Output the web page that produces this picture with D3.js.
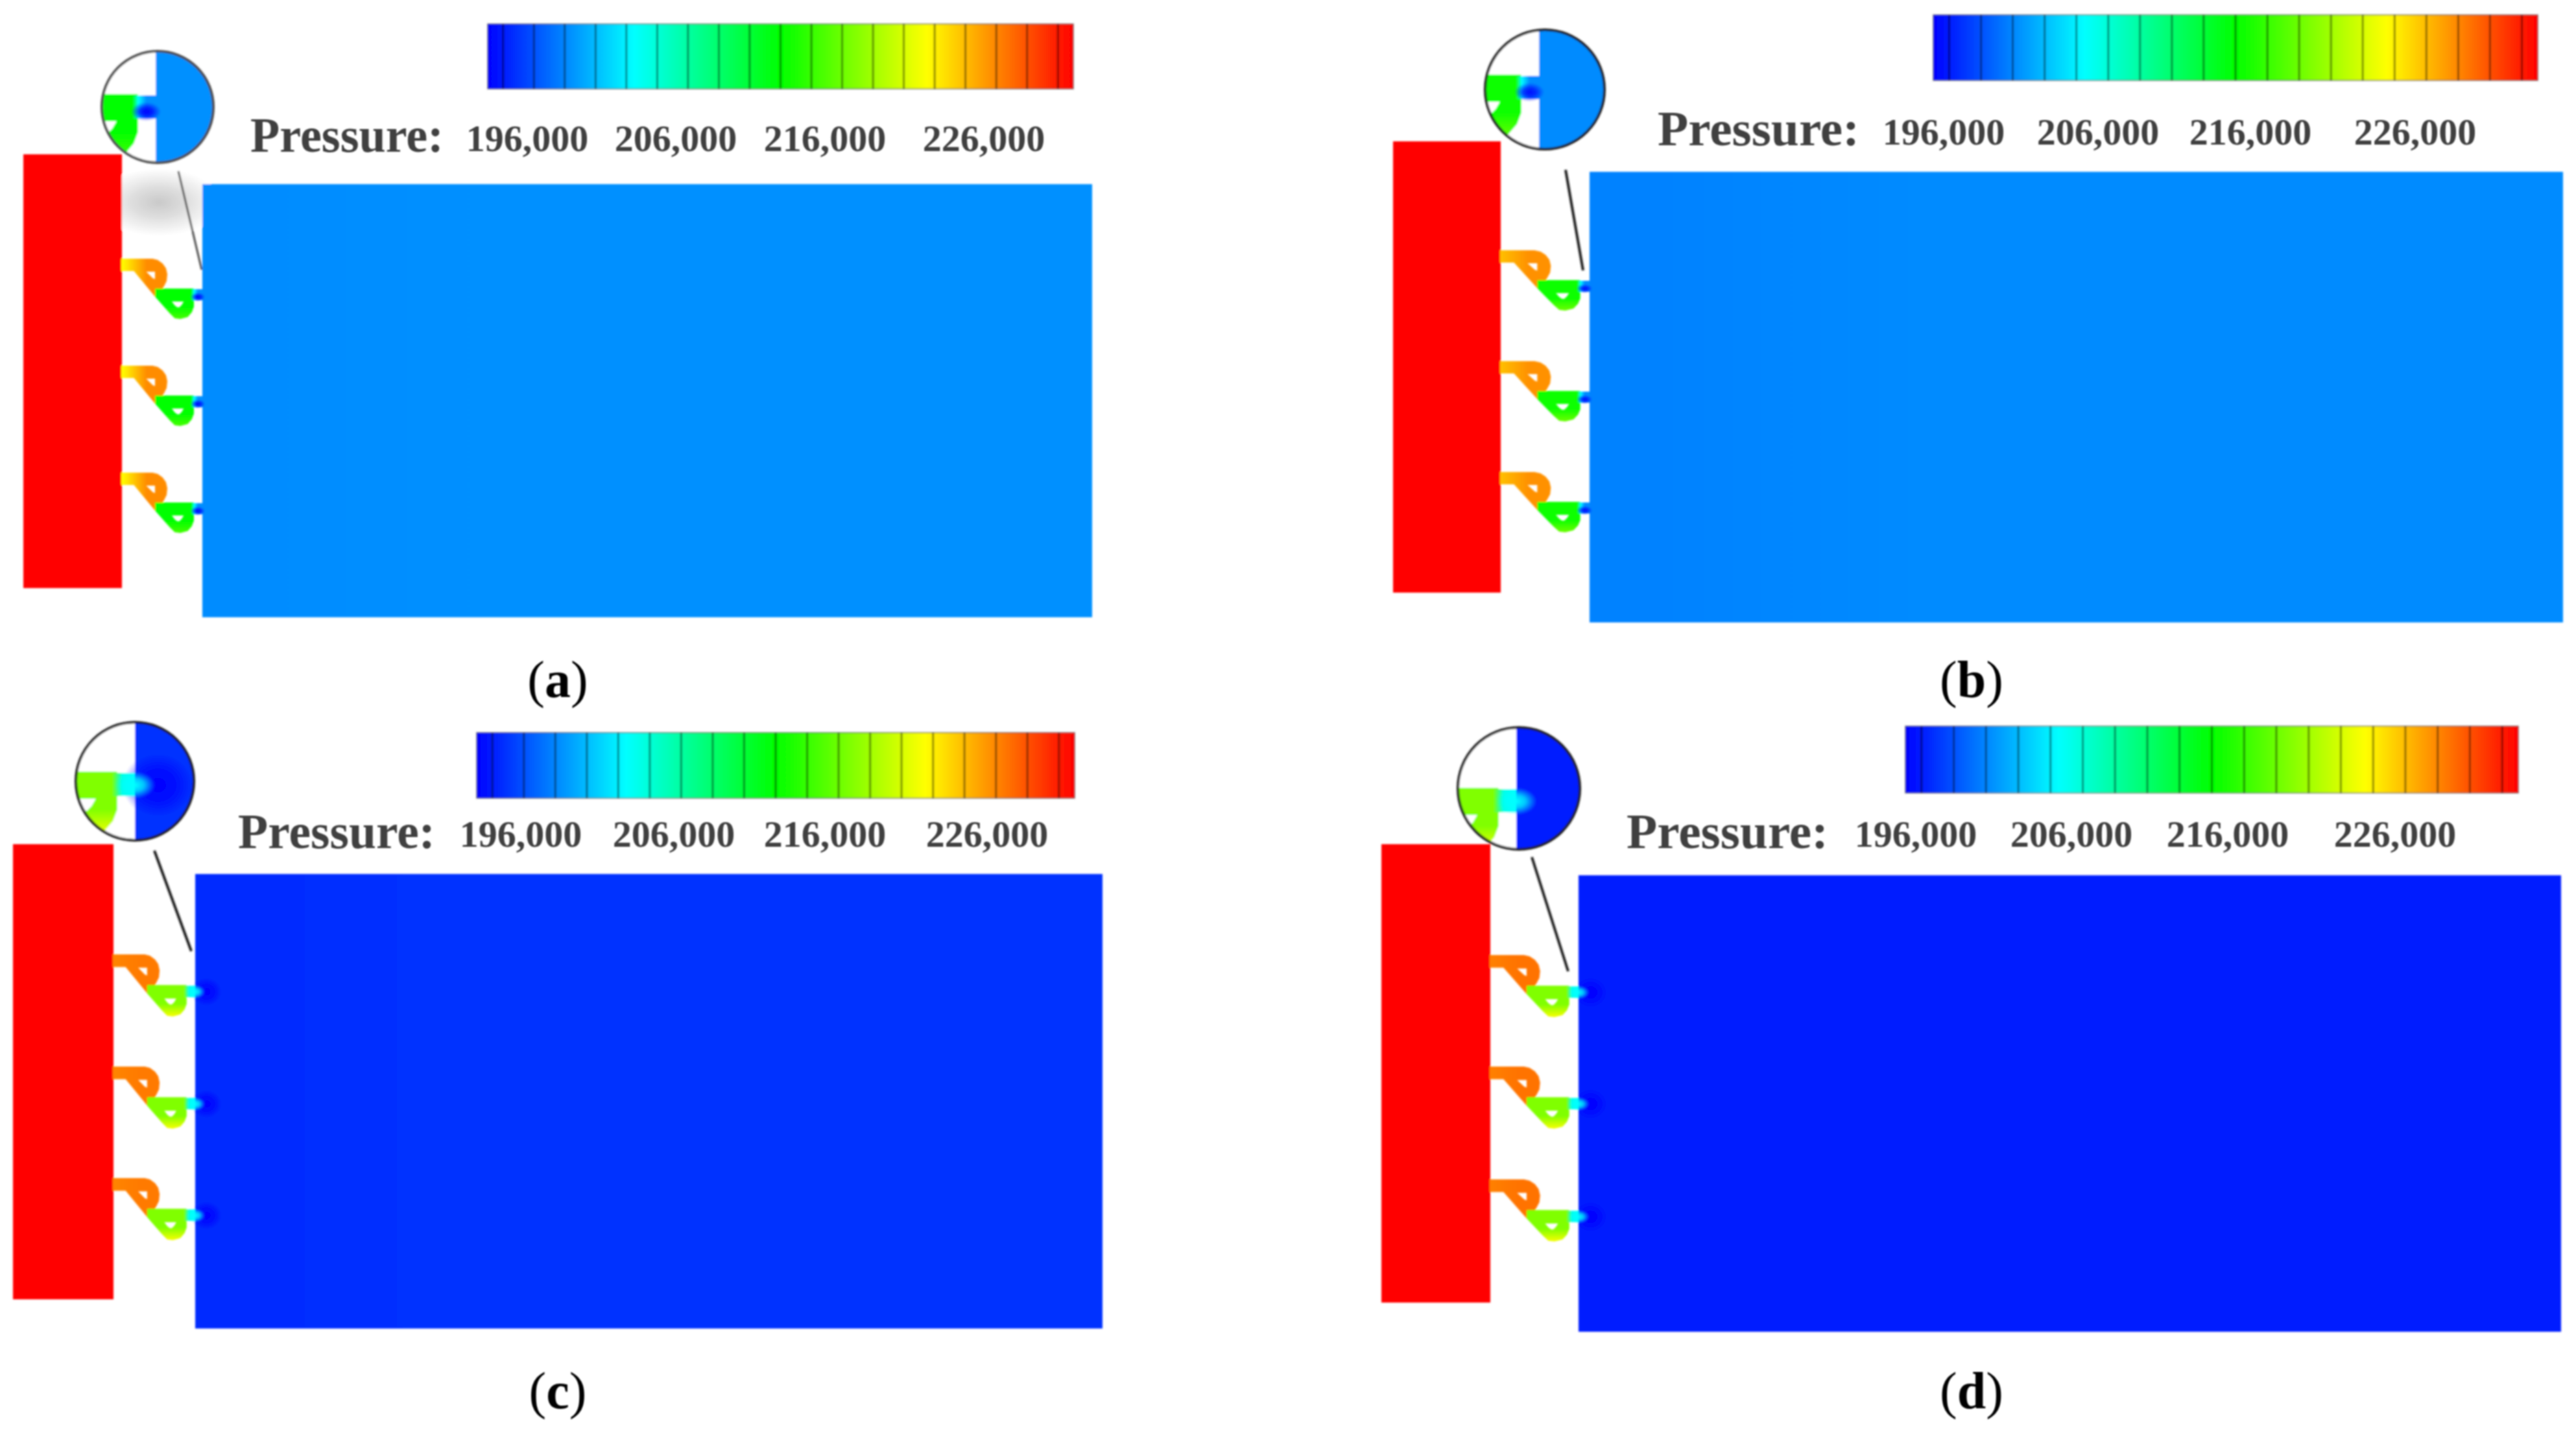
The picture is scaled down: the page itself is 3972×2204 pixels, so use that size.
<!DOCTYPE html>
<html>
<head>
<meta charset="utf-8">
<script src="https://cdn.jsdelivr.net/npm/d3@7/dist/d3.min.js"></script>
<style>html,body{margin:0;padding:0;background:#fff}svg{display:block}</style>
</head>
<body>
<svg id="chart" width="3972" height="2204"></svg>
<script>
// ---------- data ----------
const panelNames = ["a", "b", "c", "d"];
const tickLabels = ["196,000", "206,000", "216,000", "226,000"];
const pressureTitle = "Pressure:";
const rampPressure = [193000, 203000, 213000, 223000, 233000];
const rampColors = ["#0000ff", "#00ffff", "#00ff00", "#ffff00", "#ff0000"];
const barLevels = [194050, 196160, 198260, 200370, 202470, 204580, 206680, 208790, 210890, 213000,
  215110, 217210, 219320, 221420, 223530, 225630, 227740, 229840, 231950];
const inletPressure = [233000, 233000, 233000, 233000];
const fieldLeftPressure = [198500, 198100, 194700, 194000];
const fieldRightPressure = [198650, 198450, 195000, 194200];
const stage1Low = [223000, 225500, 227800, 228000];
const stage1High = [227500, 227300, 228200, 228500];
const stage2Low = [213000, 213500, 218000, 218000];
const stage2High = [215500, 217000, 222500, 222500];
const exitGlowPressure = [193000, 193600, 203000, 203000];
const fieldSpotPressure = [null, null, 193000, 193000];

// valve outlines in a local unit system (gap width 124, valve height 91)
const stage1Outline = [[0,0],[47,0],[55,2],[62,7],[67,14],[69,23],[68,33],[64,41],[60,47],[52,57],[19,17],[0,17]];
const stage1Hole = [[35,18],[52,18],[52,32],[47,30]];
const stage2Outline = [[52,46],[110,46],[110,73],[107,81],[101,88],[90,91],[82,90],[75,83],[52,57]];
const stage2Hole = [[75,64],[97,64],[93,71],[89,75],[85,75],[81,72]];
const channelOutline = [[107,46],[124,46],[124,63],[107,63]];

// ---------- layout ----------
const layout = [
 {red:[36,188,238,907], field:[312,1684,284,952], valveTops:[400,565,730], valveK:1,
  bar:[752,1655,37,137], titleX:386, titleY:234, titleLen:298, labelX:[813,1042,1272,1517], labelY:233,
  circle:[243,165,86], split:240, chanTop:147, link:[[275,264],[311,416]], circleStroke:"#4a4a4a", linkW:3,
  captionX:860, captionY:1075},
 {red:[2148,2314,218,914], field:[2451,3952,265,960], valveTops:[387,558,729], valveK:1,
  bar:[2981,3913,23,124], titleX:2556, titleY:224, titleLen:311, labelX:[2997,3235,3470,3724], labelY:223,
  circle:[2382,138,92], split:2373, chanTop:117, link:[[2414,262],[2441,417]], circleStroke:"#1a1a1a", linkW:4,
  captionX:3040, captionY:1075},
 {red:[20,175,1302,2004], field:[301,1700,1348,2049], valveTops:[1473,1646,1818], valveK:1.03,
  bar:[735,1657,1130,1231], titleX:367, titleY:1308, titleLen:304, labelX:[803,1039,1272,1522], labelY:1306,
  circle:[208,1205,91], split:208, chanTop:1192, link:[[238,1312],[295,1467]], circleStroke:"#1a1a1a", linkW:4,
  captionX:860, captionY:2172},
 {red:[2130,2298,1302,2009], field:[2434,3949,1350,2054], valveTops:[1474,1646,1820], valveK:1.03,
  bar:[2938,3883,1120,1223], titleX:2508, titleY:1308, titleLen:311, labelX:[2954,3194,3435,3693], labelY:1306,
  circle:[2342,1216,94], split:2338, chanTop:1217, link:[[2362,1322],[2418,1498]], circleStroke:"#1a1a1a", linkW:4,
  captionX:3040, captionY:2172}
];
const insetMag = 2.1;
const textFont = "'Liberation Serif','Times New Roman',serif";

// ---------- drawing ----------
const color = d3.scaleLinear().domain(rampPressure).range(rampColors).clamp(true);
const svg = d3.select("#chart");
svg.append("rect").attr("width", 3972).attr("height", 2204).attr("fill", "#fff");
const defs = svg.append("defs");

const blur = defs.append("filter").attr("id", "soft").attr("filterUnits", "userSpaceOnUse")
  .attr("x", 0).attr("y", 0).attr("width", 3972).attr("height", 2204);
blur.append("feGaussianBlur").attr("stdDeviation", 1.8);
const textBlur = defs.append("filter").attr("id", "softText").attr("filterUnits", "userSpaceOnUse")
  .attr("x", 0).attr("y", 0).attr("width", 3972).attr("height", 2204);
textBlur.append("feGaussianBlur").attr("stdDeviation", 0.8);

function linGrad(id, stops, vertical) {
  const g = defs.append("linearGradient").attr("id", id)
    .attr("x1", 0).attr("y1", 0).attr("x2", vertical ? 0 : 1).attr("y2", vertical ? 1 : 0);
  g.selectAll("stop").data(stops).join("stop")
    .attr("offset", d => d[0]).attr("stop-color", d => d[1]);
  return `url(#${id})`;
}
function radGrad(id, col) {
  const g = defs.append("radialGradient").attr("id", id);
  g.append("stop").attr("offset", 0).attr("stop-color", col).attr("stop-opacity", 1);
  g.append("stop").attr("offset", 0.45).attr("stop-color", col).attr("stop-opacity", 0.75);
  g.append("stop").attr("offset", 1).attr("stop-color", col).attr("stop-opacity", 0);
  return `url(#${id})`;
}

const barGrad = linGrad("barGrad", rampPressure.map((p, i) => [(p - rampPressure[0]) / (rampPressure[4] - rampPressure[0]), rampColors[i]]), false);

const smudge = defs.append("radialGradient").attr("id", "smudge");
smudge.append("stop").attr("offset", 0).attr("stop-color", "#c9c9c9");
smudge.append("stop").attr("offset", 0.45).attr("stop-color", "#dedede");
smudge.append("stop").attr("offset", 1).attr("stop-color", "#ffffff");

const art = svg.append("g").attr("filter", "url(#soft)");
const lettering = svg.append("g").attr("filter", "url(#softText)");

function drawValve(g, u, v, i, pid) {
  const line = d3.line().x(d => u(d[0])).y(d => v(d[1]));
  const closed = pts => line(pts) + "Z";
  const grow = Math.abs(u(1) - u(0)) * 2;
  g.append("path").attr("d", closed(stage1Outline) + closed(stage1Hole))
    .attr("fill-rule", "evenodd").attr("fill", `url(#s1${pid})`)
    .attr("stroke", `url(#s1${pid})`).attr("stroke-width", grow).attr("stroke-linejoin", "round");
  g.append("path").attr("d", closed(stage2Outline) + closed(stage2Hole))
    .attr("fill-rule", "evenodd").attr("fill", `url(#s2${pid})`)
    .attr("stroke", `url(#s2${pid})`).attr("stroke-width", grow).attr("stroke-linejoin", "round");
  g.append("path").attr("d", closed(channelOutline)).attr("fill", `url(#ch${pid})`);
  g.append("ellipse")
    .attr("cx", u(i < 2 ? 117 : 124)).attr("cy", v(i < 2 ? 58 : 55))
    .attr("rx", Math.abs(u(i < 2 ? 11 : 15) - u(0))).attr("ry", Math.abs(v(i < 2 ? 7 : 10) - v(0)))
    .attr("fill", `url(#glow${pid})`);
}

layout.forEach((p, i) => {
  const pid = panelNames[i];
  linGrad("s1" + pid, [[0, color(stage1Low[i])], [0.55, color(stage1High[i])], [1, color(stage1High[i])]], false);
  linGrad("s2" + pid, [[0, color(stage2Low[i])], [0.6, color(stage2Low[i])], [1, color(stage2High[i])]], true);
  linGrad("ch" + pid, i < 2
    ? [[0, color(stage2Low[i])], [0.25, color(203000)], [0.6, color(fieldRightPressure[i])], [1, color(fieldRightPressure[i])]]
    : [[0, color(stage2Low[i])], [0.45, color(204000)], [1, color(203000)]], false);
  radGrad("glow" + pid, color(exitGlowPressure[i]));
  if (fieldSpotPressure[i] !== null) radGrad("spot" + pid, color(fieldSpotPressure[i]));
  const fieldFill = linGrad("field" + pid, [[0, color(fieldLeftPressure[i])], [0.08, color(fieldLeftPressure[i])], [0.35, color(fieldRightPressure[i])], [1, color(fieldRightPressure[i])]], false);

  const g = art.append("g");

  if (i === 0) {
    g.append("ellipse").attr("cx", 245).attr("cy", 312).attr("rx", 95).attr("ry", 52).attr("fill", "url(#smudge)");
  }

  // field
  g.append("rect").attr("x", p.field[0]).attr("y", p.field[2])
    .attr("width", p.field[1] - p.field[0]).attr("height", p.field[3] - p.field[2]).attr("fill", fieldFill);

  // inlet
  g.append("rect").attr("x", p.red[0]).attr("y", p.red[2])
    .attr("width", p.red[1] - p.red[0]).attr("height", p.red[3] - p.red[2]).attr("fill", color(inletPressure[i]));

  // valves
  p.valveTops.forEach(top => {
    const u = d3.scaleLinear().domain([0, 124]).range([p.red[1], p.field[0]]);
    const v = d3.scaleLinear().domain([0, 91]).range([top, top + 91 * p.valveK]);
    const vg = g.append("g");
    if (fieldSpotPressure[i] !== null) {
      vg.append("ellipse").attr("cx", u(141)).attr("cy", v(55)).attr("rx", 24).attr("ry", 22).attr("fill", `url(#spot${pid})`);
    }
    drawValve(vg, u, v, i, pid);
  });

  // connector
  g.append("line").attr("x1", p.link[0][0]).attr("y1", p.link[0][1]).attr("x2", p.link[1][0]).attr("y2", p.link[1][1])
    .attr("stroke", p.circleStroke).attr("stroke-width", p.linkW);

  // inset
  const [cx, cy, r] = p.circle;
  defs.append("clipPath").attr("id", "clip" + pid).append("circle").attr("cx", cx).attr("cy", cy).attr("r", r);
  const inset = g.append("g").attr("clip-path", `url(#clip${pid})`);
  inset.append("rect").attr("x", cx - r).attr("y", cy - r).attr("width", 2 * r).attr("height", 2 * r).attr("fill", "#fff");
  inset.append("rect").attr("x", p.split).attr("y", cy - r).attr("width", cx + r - p.split).attr("height", 2 * r)
    .attr("fill", color(fieldRightPressure[i]));
  const iu = d3.scaleLinear().domain([124, 125]).range([p.split, p.split + insetMag]);
  const iv = d3.scaleLinear().domain([46, 47]).range([p.chanTop, p.chanTop + insetMag]);
  if (i === 2) {
    inset.append("ellipse").attr("cx", iu(141)).attr("cy", iv(55)).attr("rx", 55).attr("ry", 50).attr("fill", `url(#spot${pid})`);
  }
  drawValve(inset, iu, iv, i, pid);
  g.append("circle").attr("cx", cx).attr("cy", cy).attr("r", r).attr("fill", "none")
    .attr("stroke", p.circleStroke).attr("stroke-width", 4);

  // colour bar
  const bar = d3.scaleLinear().domain([rampPressure[0], rampPressure[4]]).range([p.bar[0], p.bar[1]]);
  g.append("rect").attr("x", p.bar[0]).attr("y", p.bar[2]).attr("width", p.bar[1] - p.bar[0]).attr("height", p.bar[3] - p.bar[2])
    .attr("fill", barGrad).attr("stroke", "#555").attr("stroke-opacity", 0.6).attr("stroke-width", 2);
  g.selectAll(".lvl").data(barLevels).join("line").attr("class", "lvl")
    .attr("x1", d => bar(d)).attr("x2", d => bar(d)).attr("y1", p.bar[2]).attr("y2", p.bar[3])
    .attr("stroke", "#000").attr("stroke-opacity", 0.45).attr("stroke-width", 3);

  // text
  lettering.append("text").attr("x", p.titleX).attr("y", p.titleY)
    .attr("textLength", p.titleLen).attr("lengthAdjust", "spacingAndGlyphs")
    .attr("font-family", textFont).attr("font-weight", "bold").attr("font-size", 76).attr("fill", "#3f3f3f")
    .text(pressureTitle);
  lettering.selectAll(".tick" + pid).data(tickLabels).join("text").attr("class", "tick" + pid)
    .attr("x", (d, k) => p.labelX[k]).attr("y", p.labelY).attr("text-anchor", "middle")
    .attr("font-family", textFont).attr("font-weight", "bold").attr("font-size", 58).attr("fill", "#3f3f3f")
    .text(d => d);
  const cap = lettering.append("text").attr("x", p.captionX).attr("y", p.captionY).attr("text-anchor", "middle")
    .attr("font-family", textFont).attr("font-size", 80).attr("fill", "#000");
  cap.append("tspan").text("(");
  cap.append("tspan").attr("font-weight", "bold").text(pid);
  cap.append("tspan").text(")");
});
</script>
</body>
</html>
